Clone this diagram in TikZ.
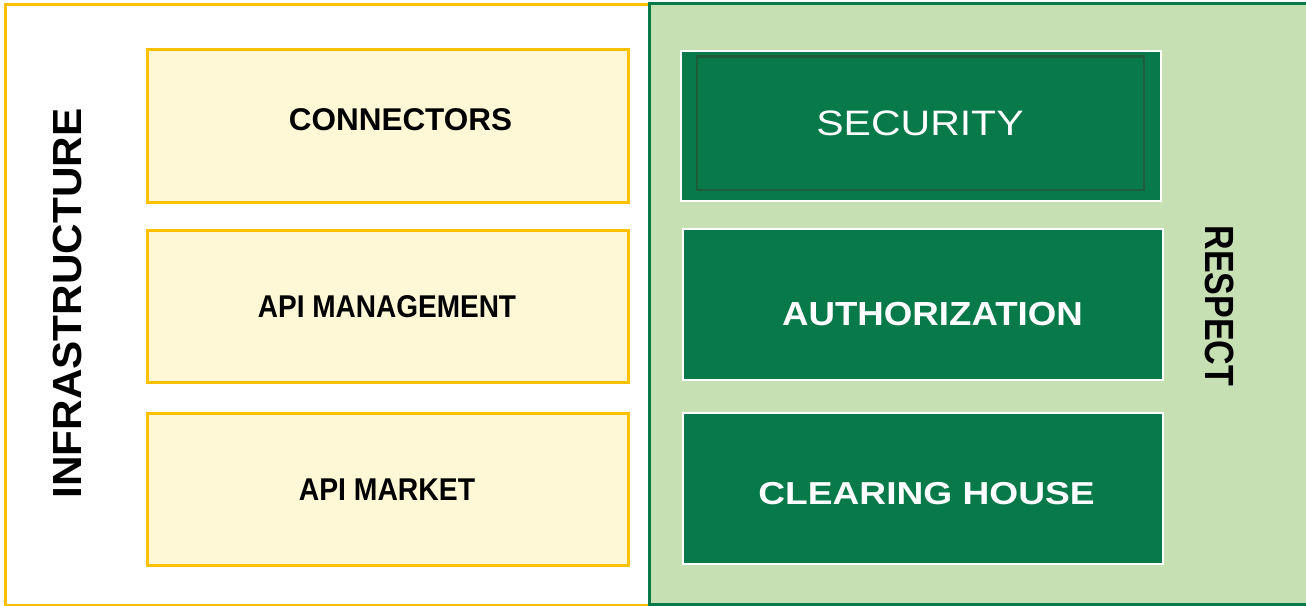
\documentclass[tikz,border=0pt]{standalone}
\usepackage{fontspec}
\setmainfont{Liberation Sans}
\usetikzlibrary{fit}
\definecolor{ybord}{HTML}{FFC000}
\definecolor{yfill}{HTML}{FFF8D7}
\definecolor{gfill}{HTML}{C6E0B4}
\definecolor{gdark}{HTML}{087A4A}
\definecolor{ginner}{HTML}{1F5C3A}
\tikzset{
  ybox/.style={draw=ybord, fill=yfill, line width=2.25pt, inner sep=0pt},
  gbox/.style={draw=white, fill=gdark, line width=1.5pt, inner sep=0pt},
  ginnerbox/.style={draw=ginner, line width=2pt, inner sep=0pt},
  ltxt/.style={font=\bfseries\fontsize{23.6pt}{26pt}\selectfont, text=black, inner sep=0pt},
  rtxt/.style={font=\bfseries\fontsize{23.8pt}{26pt}\selectfont, text=white, inner sep=0pt},
  sidetxt/.style={font=\bfseries\fontsize{30.5pt}{32pt}\selectfont, text=black, inner sep=0pt},
}
\begin{document}
\begin{tikzpicture}[x=0.75pt, y=-0.75pt]
\useasboundingbox (0,0) rectangle (1306,606);
\fill[white] (0,0) rectangle (1306,606);
% left frame
\node[draw=ybord, line width=1.8pt, fill=white, inner sep=0pt, fit={(5.5,4.5)(649,605)}] (infra) {};
% right frame
\node[draw=gdark, fill=gfill, line width=2.25pt, inner sep=0pt, fit={(649.5,4)(1308,604)}] (respect) {};
% yellow boxes
\node[ybox, fit={(147,50)(628,202)}] (conn) {};
\node[ybox, fit={(147,230)(628,382)}] (apim) {};
\node[ybox, fit={(147,413)(628,565)}] (apimk) {};
% green boxes
\node[gbox, fit={(681,51)(1161,201)}] (sec) {};
\node[ginnerbox, fit={(697,56.5)(1144,190)}] (secin) {};
\node[gbox, fit={(683,229)(1163,380)}] (auth) {};
\node[gbox, fit={(683,413)(1163,564)}] (clear) {};
% labels
\node[ltxt] (tconn) at (400.5,120) {CONNECTORS};
\node[ltxt] (tapim) at (387,307) {\scalebox{0.89}[1]{API MANAGEMENT}};
\node[ltxt] (tapimk) at (387,490) {\scalebox{0.9}[1]{API MARKET}};
\node[font=\fontsize{26.5pt}{28pt}\selectfont, text=white, inner sep=0pt] (tsec) at (920,123) {\scalebox{1.16}[1]{SECURITY}};
\node[font=\bfseries\fontsize{25pt}{28pt}\selectfont, text=white, inner sep=0pt] (tauth) at (932.5,314) {\scalebox{1.1}[1]{AUTHORIZATION}};
\node[rtxt] (tclear) at (926.5,494) {\scalebox{1.17}[1]{CLEARING HOUSE}};
\node[sidetxt, rotate=90] (tinfra) at (68,303.5) {\scalebox{1.04}[1]{INFRASTRUCTURE}};
\node[font=\bfseries\fontsize{25.5pt}{28pt}\selectfont, text=black, inner sep=0pt, rotate=-90] (tresp) at (1220,306) {\scalebox{1}[1.2]{RESPECT}};
\end{tikzpicture}
\end{document}
